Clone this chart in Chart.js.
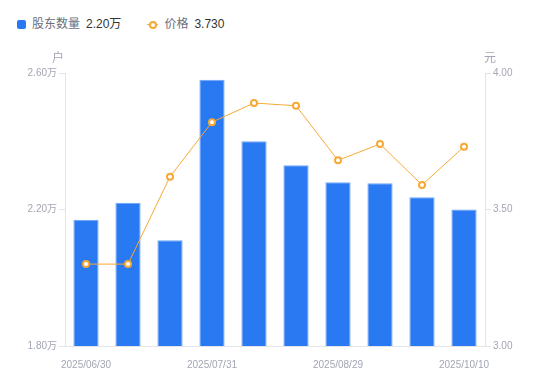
<!DOCTYPE html>
<html>
<head>
<meta charset="utf-8">
<script src="https://cdn.jsdelivr.net/npm/chart.js@4"></script>
<style>
  html, body { margin: 0; padding: 0; background: #fff; }
  body { width: 550px; height: 381px; position: relative; overflow: hidden; font-family: "Liberation Sans", "Noto Sans CJK SC", sans-serif; }
  #chart { position: absolute; left: 0; top: 0; }
  .legend { position: absolute; left: 17px; top: 15px; font-size: 12px; line-height: 18px; display: flex; align-items: center; }
  .legend .item { display: flex; align-items: center; margin-right: 27px; }
  .legend .sq { width: 9px; height: 9px; border-radius: 2px; background: #2979f2; margin-right: 6px; }
  .legend .ln { position: relative; width: 9px; height: 9px; margin-right: 7px; }
  .legend .ln::before { content: ''; position: absolute; left: -1px; right: -1px; top: 4px; height: 1px; background: #f7a935; }
  .legend .ln::after { content: ''; position: absolute; left: 1px; top: 1px; width: 4px; height: 4px; border: 2px solid #f7a935; border-radius: 50%; background: #fff; }
  .legend .name { color: #6b6f7a; margin-right: 6px; }
  .legend .val { color: #333; }
</style>
</head>
<body>
<div class="legend">
  <div class="item"><span class="sq"></span><span class="name">股东数量</span><span class="val">2.20万</span></div>
  <div class="item"><span class="ln"></span><span class="name">价格</span><span class="val">3.730</span></div>
</div>
<canvas id="chart" width="550" height="381"></canvas>
<script>
// data
const dates = ['2025/06/30', '2025/07/10', '2025/07/20', '2025/07/31', '2025/08/10',
               '2025/08/20', '2025/08/29', '2025/09/10', '2025/09/30', '2025/10/10'];
const holders = [2.17, 2.22, 2.11, 2.58, 2.40, 2.33, 2.28, 2.277, 2.236, 2.20]; // 万户
const prices = [3.30, 3.30, 3.62, 3.82, 3.89, 3.88, 3.68, 3.74, 3.59, 3.73];   // 元

const leftTicks = [1.8, 2.2, 2.6];
const rightTicks = [3.0, 3.5, 4.0];

const axisGrey = '#e3e4ea';
const tickGrey = '#a3a6b4';

const axisTitles = {
  id: 'axisTitles',
  afterDraw(chart) {
    const ctx = chart.ctx;
    ctx.save();
    ctx.font = '12px "Noto Sans CJK SC", sans-serif';
    ctx.fillStyle = tickGrey;
    ctx.textAlign = 'center';
    ctx.textBaseline = 'middle';
    ctx.fillText('户', chart.scales.y.right - 7, 57);
    ctx.fillText('元', chart.scales.y1.left + 5, 57);
    ctx.restore();
  }
};

new Chart(document.getElementById('chart').getContext('2d'), {
  data: {
    labels: dates,
    datasets: [
      {
        type: 'line',
        label: '价格',
        data: prices,
        yAxisID: 'y1',
        borderColor: '#f7a935',
        borderWidth: 1,
        pointRadius: 3,
        pointBorderWidth: 2,
        pointBackgroundColor: '#fff',
        pointBorderColor: '#f7a935',
        tension: 0,
        order: 0
      },
      {
        type: 'bar',
        label: '股东数量',
        data: holders,
        yAxisID: 'y',
        backgroundColor: '#2979f2',
        borderColor: '#6ea5f7',
        borderWidth: { top: 1, left: 1, right: 1, bottom: 0 },
        categoryPercentage: 0.6,
        barPercentage: 1,
        order: 1
      }
    ]
  },
  options: {
    responsive: false,
    animation: false,
    layout: { padding: { top: 73, left: 0, right: 0, bottom: 0 } },
    plugins: { legend: { display: false }, tooltip: { enabled: false } },
    scales: {
      x: {
        grid: { display: false },
        border: { color: axisGrey },
        ticks: {
          autoSkip: false,
          maxRotation: 0,
          padding: 5,
          color: tickGrey,
          font: { size: 10, family: '"Liberation Sans", sans-serif' },
          callback: (v, i) => (i % 3 === 0 ? dates[i] : '')
        },
        afterFit: s => { s.height = 35; }
      },
      y: {
        position: 'left',
        min: 1.8,
        max: 2.6,
        afterBuildTicks: s => { s.ticks = leftTicks.map(v => ({ value: v })); },
        grid: { drawOnChartArea: false, tickLength: 6, color: axisGrey },
        border: { color: axisGrey },
        ticks: {
          padding: 2,
          color: tickGrey,
          font: { size: 10, family: '"Liberation Sans", "Noto Sans CJK SC", sans-serif' },
          callback: v => v.toFixed(2) + '万'
        },
        afterFit: s => { s.width = 65; }
      },
      y1: {
        position: 'right',
        min: 3,
        max: 4,
        afterBuildTicks: s => { s.ticks = rightTicks.map(v => ({ value: v })); },
        grid: { drawOnChartArea: false, tickLength: 6, color: axisGrey },
        border: { color: axisGrey },
        ticks: {
          padding: 2,
          color: tickGrey,
          font: { size: 10, family: '"Liberation Sans", sans-serif' },
          callback: v => v.toFixed(2)
        },
        afterFit: s => { s.width = 65; }
      }
    }
  },
  plugins: [axisTitles]
});
</script>
</body>
</html>
